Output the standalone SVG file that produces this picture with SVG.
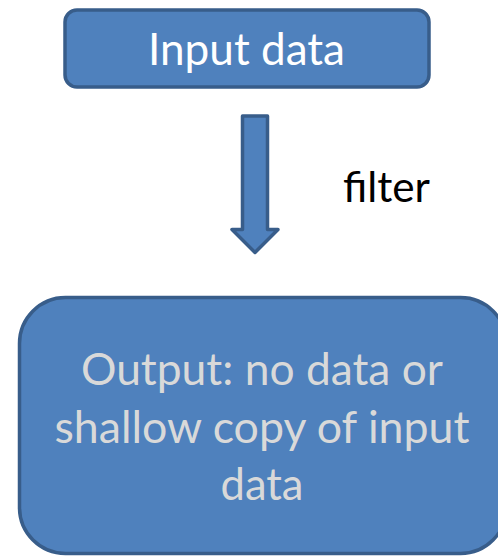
<svg xmlns="http://www.w3.org/2000/svg" width="498" height="556" viewBox="0 0 498 556">
  <style>
    .box { fill: #4f81bd; stroke: #385d8a; stroke-width: 3.5; }
    .lbl { font-family: Lato, "Open Sans", "Liberation Sans", sans-serif; text-anchor: middle; }
    .in { fill: #ffffff; font-size: 44px; }
    .out { fill: #d9d9d9; font-size: 45px; }
    .edge { fill: #000000; font-size: 43px; font-family: Lato, "Open Sans", "Liberation Sans", sans-serif; }
  </style>
  <rect width="498" height="556" fill="#ffffff"/>
  <g id="input">
    <rect class="box" x="65" y="10" width="364" height="77" rx="12" ry="12"/>
    <text class="lbl in" x="246.5" y="65" textLength="197" lengthAdjust="spacingAndGlyphs">Input data</text>
  </g>
  <g id="connectors">
    <path class="box" stroke-width="4" stroke-linejoin="round" d="M242.5,116 H267.5 V229.5 H278 L255,252.5 L232,229.5 H242.5 Z"/>
    <text class="edge" x="343" y="202" textLength="87" lengthAdjust="spacingAndGlyphs">filter</text>
  </g>
  <g id="output">
    <rect class="box" x="19.5" y="297.5" width="487" height="256" rx="46" ry="46"/>
    <text class="lbl out" x="262" y="385" textLength="362" lengthAdjust="spacingAndGlyphs">Output: no data or</text>
    <text class="lbl out" x="262" y="443" textLength="415" lengthAdjust="spacingAndGlyphs">shallow copy of input</text>
    <text class="lbl out" x="262" y="500" textLength="83" lengthAdjust="spacingAndGlyphs">data</text>
  </g>
</svg>
